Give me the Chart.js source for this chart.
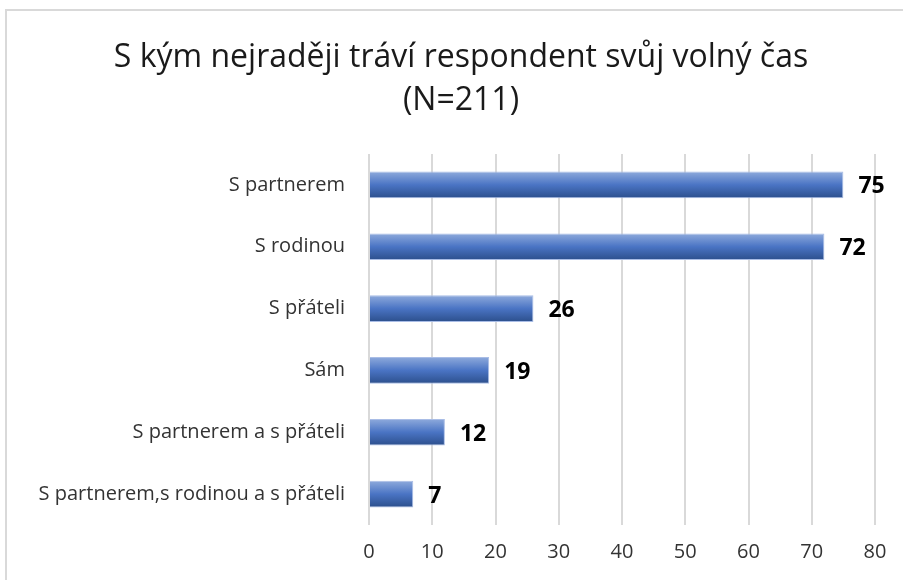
<!DOCTYPE html>
<html>
<head>
<meta charset="utf-8">
<script src="https://cdn.jsdelivr.net/npm/chart.js@4"></script>
<style>
  html, body { margin: 0; padding: 0; background: #fff; }
  #wrap { width: 903px; height: 580px; }
</style>
</head>
<body>
<div id="wrap"><canvas id="chart" width="903" height="580"></canvas></div>
<script>
// data
var categories = ["S partnerem", "S rodinou", "S přáteli", "Sám", "S partnerem a s přáteli", "S partnerem,s rodinou a s přáteli"];
var counts = [75, 72, 26, 19, 12, 7];
var xTicks = [0, 10, 20, 30, 40, 50, 60, 70, 80];
var titleLines = ["S kým nejraději tráví respondent svůj volný čas", "(N=211)"];

var FONT = "'Open Sans', 'Noto Sans', sans-serif";

// gradient bars like the excel style (own options object per bar)
var gradientBars = {
  id: "gradientBars",
  beforeDatasetsDraw: function (chart) {
    var c = chart.ctx;
    chart.getDatasetMeta(0).data.forEach(function (bar) {
      var top = bar.y - bar.height / 2, bottom = bar.y + bar.height / 2;
      var g = c.createLinearGradient(0, top, 0, bottom);
      g.addColorStop(0, "#8eaadc");
      g.addColorStop(0.5, "#4a74c4");
      g.addColorStop(1, "#2c4f8c");
      bar.options = Object.assign({}, bar.options, { backgroundColor: g });
    });
  }
};

// bold value labels right of the bars
var valueLabels = {
  id: "valueLabels",
  afterDatasetsDraw: function (chart) {
    var c = chart.ctx;
    c.save();
    c.font = "bold 23px " + FONT;
    c.fillStyle = "#000";
    c.textAlign = "left";
    c.textBaseline = "middle";
    chart.getDatasetMeta(0).data.forEach(function (bar, i) {
      c.fillText(counts[i], bar.x + 15, bar.y + 2);
    });
    c.restore();
  }
};

// title centred on the whole picture (not only on the padded box)
var centredTitle = {
  id: "centredTitle",
  afterDraw: function (chart) {
    var c = chart.ctx;
    c.save();
    c.font = "32px " + FONT;
    c.fillStyle = "#1a1a1a";
    c.textAlign = "center";
    c.textBaseline = "middle";
    titleLines.forEach(function (t, i) {
      c.fillText(t, 461, 58 + i * 43);
    });
    c.restore();
  }
};

// outer frame of the picture
var frame = {
  id: "frame",
  afterDraw: function (chart) {
    var c = chart.ctx;
    c.save();
    c.strokeStyle = "#d9d9d9";
    c.lineWidth = 2;
    c.strokeRect(6, 10, 1000, 1000);
    c.restore();
  }
};

var ctx = document.getElementById("chart").getContext("2d");
new Chart(ctx, {
  type: "bar",
  data: {
    labels: categories,
    datasets: [{
      data: counts,
      backgroundColor: "#4472c4",
      borderColor: "#a9bde6",
      borderWidth: 1,
      barPercentage: 0.43,
      categoryPercentage: 1
    }]
  },
  options: {
    indexAxis: "y",
    responsive: false,
    animation: false,
    layout: { padding: { left: 0, right: 28, top: 154, bottom: 0 } },
    scales: {
      x: {
        min: 0,
        max: 80,
        afterBuildTicks: function (s) { s.ticks = xTicks.map(function (v) { return { value: v }; }); },
        grid: { color: "#d9d9d9", lineWidth: 2, drawTicks: false },
        border: { display: false },
        ticks: { color: "#333", font: { family: FONT, size: 20 }, padding: 15 },
        afterFit: function (s) { s.height = 55; }
      },
      y: {
        grid: { display: false },
        border: { display: false },
        ticks: { color: "#333", font: { family: FONT, size: 20 }, padding: 16 },
        afterFit: function (s) { s.width = 369; }
      }
    },
    plugins: {
      legend: { display: false },
      tooltip: { enabled: false },
      title: { display: false }
    }
  },
  plugins: [gradientBars, valueLabels, centredTitle, frame]
});
</script>
</body>
</html>
